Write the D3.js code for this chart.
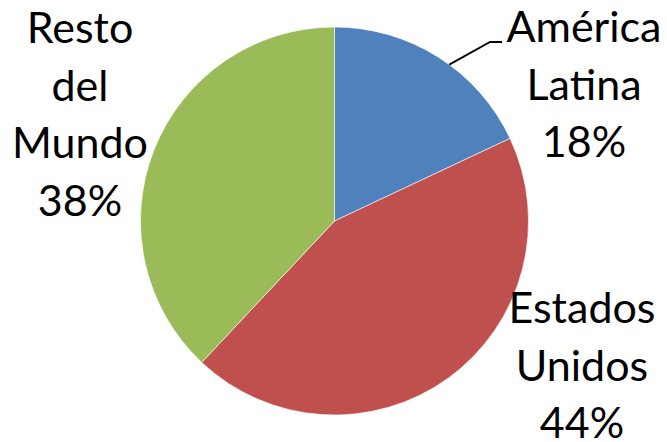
<!DOCTYPE html>
<html><head><meta charset="utf-8">
<script src="https://cdn.jsdelivr.net/npm/d3@7"></script>
<style>html,body{margin:0;padding:0;background:#fff;}svg{display:block;}</style>
</head><body>
<svg id="chart" width="667" height="442"></svg>
<script>
const categories = ["América Latina", "Estados Unidos", "Resto del Mundo"];
const values = [18, 44, 38];
const colors = ["#4F81BD", "#C0504D", "#9BBB59"];
const labelLines = [["América", "Latina", "18%"], ["Estados", "Unidos", "44%"], ["Resto", "del", "Mundo", "38%"]];

const svg = d3.select("#chart");
const cx = 334.5, cy = 221, r = 194;
const g = svg.append("g").attr("transform", `translate(${cx},${cy})`);
const pie = d3.pie().sort(null).value(d => d)(values);
const arc = d3.arc().innerRadius(0).outerRadius(r);
g.selectAll("path").data(pie).join("path")
  .attr("d", arc)
  .attr("fill", (d, i) => colors[i])
  .attr("stroke", "#ffffff").attr("stroke-width", 0.6);

// label positions (center x, first baseline)
const labelPos = [[584, 42], [582, 323], [80, 43]];
const lh = 57.5;
labelLines.forEach((lines, i) => {
  const t = svg.append("text")
    .attr("text-anchor", "middle")
    .attr("font-family", "Lato, 'Liberation Sans', sans-serif")
    .attr("font-size", 43)
    .attr("fill", "#000");
  lines.forEach((ln, j) => {
    t.append("tspan").attr("x", labelPos[i][0]).attr("y", labelPos[i][1] + j * lh).text(ln);
  });
});

// leader line for América Latina
const mid = (pie[0].startAngle + pie[0].endAngle) / 2;
const a0 = pie[0].startAngle + (pie[0].endAngle - pie[0].startAngle) * 0.56;
const p0 = [cx + Math.sin(a0) * r, cy - Math.cos(a0) * r];
svg.append("polyline")
  .attr("points", `${p0[0]},${p0[1]} 490,42 502,42`)
  .attr("fill", "none").attr("stroke", "#000").attr("stroke-width", 1.8);
</script>
</body></html>
